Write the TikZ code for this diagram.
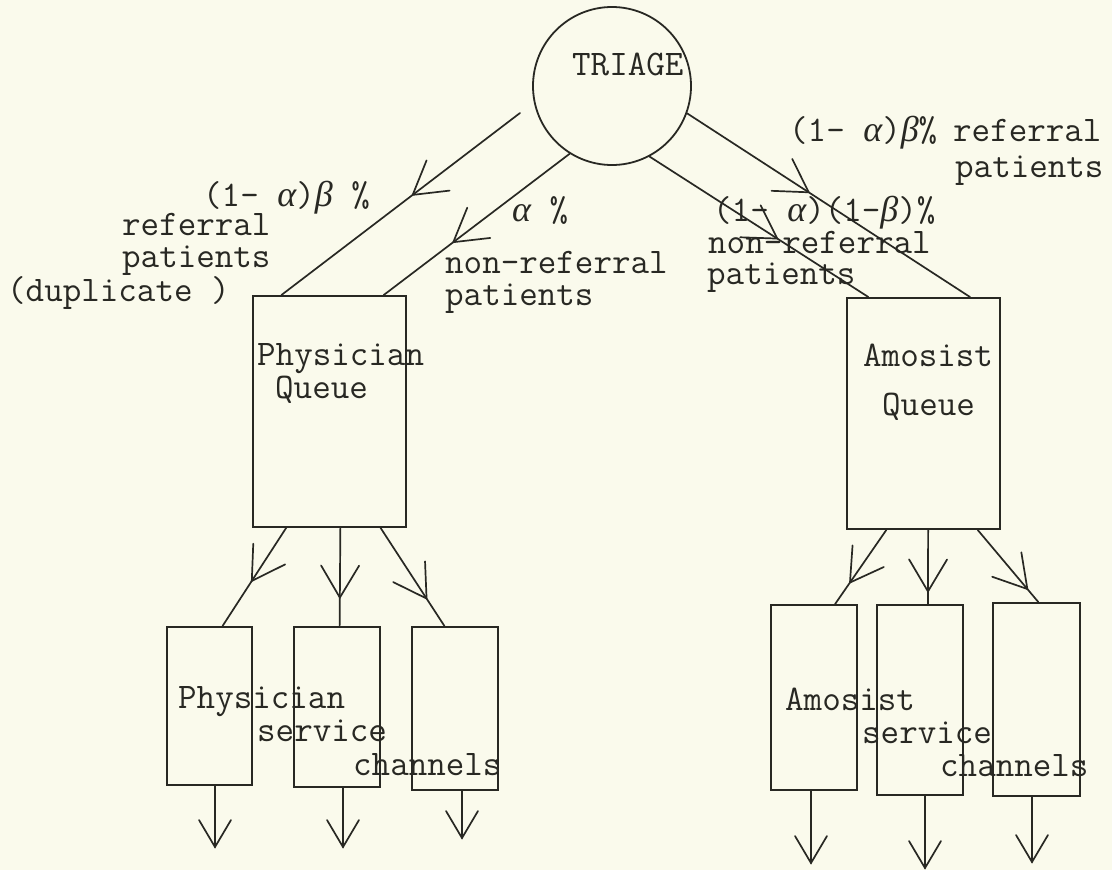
\documentclass[tikz,border=0pt]{standalone}
\usepackage{fontspec}
\newfontfamily\grkfont{Liberation Serif}
\usetikzlibrary{decorations.markings,calc}
\definecolor{paper}{RGB}{250,250,236}
\definecolor{ink}{RGB}{40,40,35}
\newcommand{\twsize}{\ttfamily\fontsize{36}{40}\selectfont}
\newcommand{\ga}{{\grkfont\itshape α}}
\newcommand{\gb}{{\grkfont\itshape β}}
\tikzset{
  lbl/.style={anchor=base west, inner sep=0pt, font=\twsize, text=ink},
  box/.style={draw=ink, line width=2pt, rectangle, inner sep=0pt},
  conn/.style={draw=ink, line width=1.7pt, line cap=round},
  midv/.style={postaction={decorate}, decoration={markings, mark=at position #1 with {\draw[ink, line width=1.7pt, line cap=round] (-32pt,19pt) -- (0pt,0pt) -- (-32pt,-19pt);}}},
  endv/.style={postaction={decorate}, decoration={markings, mark=at position 1 with {\draw[ink, line width=1.7pt, line cap=round] (-27pt,16pt) -- (0pt,0pt) -- (-27pt,-16pt);}}},
}
\begin{document}
\begin{tikzpicture}[x=1pt,y=-1pt]
\fill[paper] (0,0) rectangle (1112,870);
\useasboundingbox (0,0) rectangle (1112,870);

% triage
\node[circle, draw=ink, line width=1.8pt, minimum size=158pt, inner sep=0pt] (triage) at (612,86) {};
\node[lbl] (triaget) at (572,75) {TRIAGE};

% queues
\node[box, minimum width=153pt, minimum height=231pt] (pq) at (329.5,411.5) {};
\node[box, minimum width=153pt, minimum height=231pt] (aq) at (923.5,413.5) {};
\node[lbl] (pqt1) at (257,365) {Physician};
\node[lbl] (pqt2) at (275,398) {Queue};
\node[lbl] (aqt1) at (863,366) {Amosist};
\node[lbl] (aqt2) at (882,415) {Queue};

% service channels
\node[box, minimum width=85pt, minimum height=158pt] (p1) at (209.5,706) {};
\node[box, minimum width=86pt, minimum height=160pt] (p2) at (337,707) {};
\node[box, minimum width=86pt, minimum height=163pt] (p3) at (455,708.5) {};
\node[box, minimum width=86pt, minimum height=185pt] (a1) at (814,697.5) {};
\node[box, minimum width=86pt, minimum height=190pt] (a2) at (920,700) {};
\node[box, minimum width=87pt, minimum height=193pt] (a3) at (1036.5,699.5) {};

\node[lbl] (pst1) at (178,708) {Physician};
\node[lbl] (pst2) at (257,741) {service};
\node[lbl] (pst3) at (353,775) {channels};
\node[lbl] (ast1) at (785,710) {Amosist};
\node[lbl] (ast2) at (862,743) {service};
\node[lbl] (ast3) at (940,776) {channels};

% labels on the triage branches
\node[lbl] (ll1) at (203,206) {(1- \ga)\gb{} \%};
\node[lbl] (ll2) at (122,235) {referral};
\node[lbl] (ll3) at (122,267) {patients};
\node[lbl] (ll4) at (7,301) {(duplicate )};
\node[lbl] (ml1) at (512,221) {\ga{} \%};
\node[lbl] (ml2) at (445,273) {non-referral};
\node[lbl] (ml3) at (445,305) {patients};
\node[lbl] (rl1) at (789,141) {(1- \ga)\gb\%};
\node[lbl] (rl1b) at (953,141) {referral};
\node[lbl] (rl2) at (955,177) {patients};
\node[lbl] (rm1) at (713,221) {(1- \ga)(1-\gb)\%};
\node[lbl] (rm2) at (708,253) {non-referral};
\node[lbl] (rm3) at (707,284) {patients};

% triage connectors
\coordinate (l1s) at (520,113);
\draw[conn, midv=0.45] (l1s) -- ($(pq.north west)!0.19!(pq.north east)$);
\draw[conn, midv=0.626] (triage.238) -- ($(pq.north west)!0.85!(pq.north east)$);
\draw[conn, midv=0.584] (triage.298) -- ($(aq.north west)!0.144!(aq.north east)$);
\draw[conn, midv=0.43] (triage.340) -- ($(aq.north west)!0.8!(aq.north east)$);

% queue to channels
\draw[conn, midv=0.54] ($(pq.south west)!0.22!(pq.south east)$) -- ($(p1.north west)!0.65!(p1.north east)$);
\draw[conn, midv=0.71] ($(pq.south west)!0.57!(pq.south east)$) -- ($(p2.north west)!0.53!(p2.north east)$);
\draw[conn, midv=0.72] ($(pq.south west)!0.83!(pq.south east)$) -- ($(p3.north west)!0.38!(p3.north east)$);
\draw[conn, midv=0.71] ($(aq.south west)!0.26!(aq.south east)$) -- ($(a1.north west)!0.74!(a1.north east)$);
\draw[conn, midv=0.83] ($(aq.south west)!0.53!(aq.south east)$) -- ($(a2.north west)!0.59!(a2.north east)$);
\draw[conn, midv=0.82] ($(aq.south west)!0.85!(aq.south east)$) -- ($(a3.north west)!0.52!(a3.north east)$);

% exits
\coordinate (p1o) at (215,847);
\coordinate (p2o) at (343,847);
\coordinate (p3o) at (462,838);
\coordinate (a1o) at (811,863);
\coordinate (a2o) at (925,868);
\coordinate (a3o) at (1032,862);
\draw[conn, endv] (p1.south -| p1o) -- (p1o);
\draw[conn, endv] (p2.south -| p2o) -- (p2o);
\draw[conn, endv] (p3.south -| p3o) -- (p3o);
\draw[conn, endv] (a1.south -| a1o) -- (a1o);
\draw[conn, endv] (a2.south -| a2o) -- (a2o);
\draw[conn, endv] (a3.south -| a3o) -- (a3o);
\end{tikzpicture}
\end{document}
